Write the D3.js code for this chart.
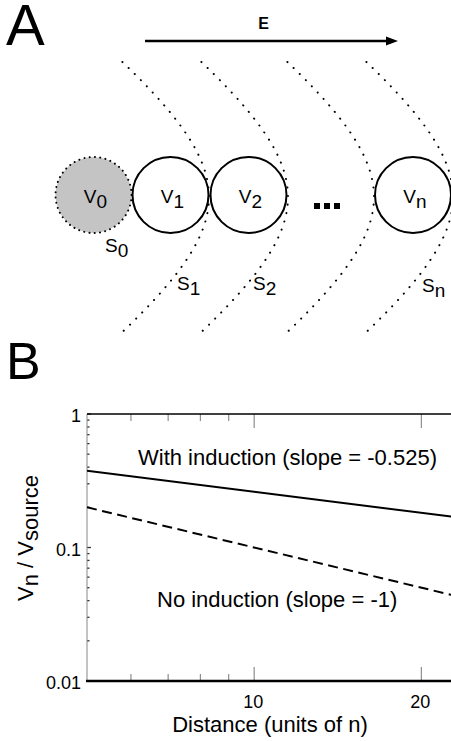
<!DOCTYPE html>
<html><head><meta charset="utf-8">
<script src="https://cdn.jsdelivr.net/npm/d3@7"></script>
<style>html,body{margin:0;padding:0;background:#fff;} svg{display:block;font-family:"Liberation Sans",Arial,Helvetica,sans-serif;}</style>
</head><body><svg id="c" width="451" height="741"></svg>
<script>
// ---------- data (panel B) ----------
const distance = [5, 23];
const withInduction = [0.376, 0.169];
const noInduction = [0.2, 0.0435];
const xMajorTicks = [10, 20];
const xMajorLabels = ["10", "20"];
const xMinorTicks = [6, 7, 8, 9];
const yMajorTicks = [1, 0.1, 0.01];
const yTickLabels = ["1", "0.1", "0.01"];
const yMinorTicks = [0.9, 0.8, 0.7, 0.6, 0.5, 0.4, 0.3, 0.2, 0.09, 0.08, 0.07, 0.06, 0.05, 0.04, 0.03, 0.02];
const annotations = ["With induction (slope = -0.525)", "No induction (slope = -1)"];
// ---------- schematic (panel A) ----------
const compartments = ["0", "1", "2", "n"];
const surfaces = ["0", "1", "2", "n"];

const svg = d3.select("#c");

// ===== Panel A =====
svg.append("text").attr("x", 6).attr("y", 45).attr("font-size", 58).text("A");

// field arrow
svg.append("line").attr("x1", 145).attr("y1", 41).attr("x2", 390).attr("y2", 41)
  .attr("stroke", "#000").attr("stroke-width", 2.6);
svg.append("path").attr("d", "M386,36.5 L398,41 L386,45.5 Z").attr("fill", "#000");
svg.append("text").attr("x", 263.5).attr("y", 29).attr("text-anchor", "middle")
  .attr("font-size", 16).attr("font-weight", "bold").text("E");

// dotted surfaces
const vertexX = [209, 288, 374, 453];
const arcLine = d3.line().curve(d3.curveBasis);
vertexX.forEach(xv => {
  const pts = d3.range(62, 333, 2).map(yy => {
    const dy = yy - 197;
    return [xv - 1.35 * (Math.sqrt(dy * dy + 110 * 110) - 110), yy];
  });
  svg.append("path").attr("d", arcLine(pts)).attr("fill", "none")
    .attr("stroke", "#000").attr("stroke-width", 2).attr("stroke-linecap", "round")
    .attr("stroke-dasharray", "0.1 8.5");
});

// compartments
const cxs = [93.5, 170.5, 248.5, 413];
const cyA = 195, rA = 38;
compartments.forEach((c, i) => {
  const circ = svg.append("circle").attr("cx", cxs[i]).attr("cy", cyA).attr("r", rA);
  if (i === 0) {
    circ.attr("fill", "#c4c4c4").attr("stroke", "#000").attr("stroke-width", 2)
      .attr("stroke-linecap", "round").attr("stroke-dasharray", "0.1 5.2");
  } else {
    circ.attr("fill", "#fff").attr("stroke", "#000").attr("stroke-width", 2);
  }
  const t = svg.append("text").attr("x", cxs[i] + 2).attr("y", 203)
    .attr("text-anchor", "middle").attr("font-size", 19);
  t.append("tspan").text("V");
  t.append("tspan").attr("dy", 5).text(c);
});

// ellipsis
[314, 324, 334].forEach(xx => {
  svg.append("rect").attr("x", xx).attr("y", 203).attr("width", 6).attr("height", 6).attr("fill", "#000");
});

// surface labels
const sPos = [[105, 252], [177, 290], [253, 290], [422, 292]];
surfaces.forEach((s, i) => {
  const t = svg.append("text").attr("x", sPos[i][0]).attr("y", sPos[i][1]).attr("font-size", 19);
  t.append("tspan").text("S");
  t.append("tspan").attr("dy", 5).text(s);
});

// ===== Panel B =====
svg.append("text").attr("x", 6).attr("y", 379).attr("font-size", 52).text("B");

const pLeft = 87, pTop = 414, pBottom = 681;
const x = d3.scaleLog().domain([5, 23]).range([pLeft, 455]);
const y = d3.scaleLog().domain([0.01, 1]).range([pBottom, pTop]);

svg.append("clipPath").attr("id", "plot").append("rect")
  .attr("x", pLeft).attr("y", pTop).attr("width", 460 - pLeft).attr("height", pBottom - pTop);

const g = svg.append("g");
xMinorTicks.concat(xMajorTicks).forEach(v => {
  const len = xMajorTicks.includes(v) ? 14 : 7;
  g.append("line").attr("x1", x(v)).attr("x2", x(v)).attr("y1", pBottom).attr("y2", pBottom - len)
    .attr("stroke", "#777").attr("stroke-width", 1);
  g.append("line").attr("x1", x(v)).attr("x2", x(v)).attr("y1", pTop).attr("y2", pTop + len)
    .attr("stroke", "#777").attr("stroke-width", 1);
});
xMajorTicks.forEach((v, i) => {
  g.append("text").attr("x", x(v) - 1).attr("y", 708).attr("text-anchor", "middle")
    .attr("font-size", 18).text(xMajorLabels[i]);
});

yMinorTicks.forEach(v => {
  g.append("line").attr("x1", pLeft).attr("x2", pLeft + 2.5).attr("y1", y(v)).attr("y2", y(v))
    .attr("stroke", "#333").attr("stroke-width", 1.3);
});
yMajorTicks.forEach((v, i) => {
  g.append("line").attr("x1", pLeft).attr("x2", pLeft + 4).attr("y1", y(v)).attr("y2", y(v))
    .attr("stroke", "#333").attr("stroke-width", 1.3);
  g.append("text").attr("x", 81).attr("y", y(v) + 8).attr("text-anchor", "end")
    .attr("font-size", 18).text(yTickLabels[i]);
});

// frame
svg.append("line").attr("x1", pLeft).attr("x2", pLeft).attr("y1", pTop).attr("y2", pBottom)
  .attr("stroke", "#888").attr("stroke-width", 1);
svg.append("line").attr("x1", pLeft).attr("x2", 451).attr("y1", pTop).attr("y2", pTop)
  .attr("stroke", "#000").attr("stroke-width", 1.5);
svg.append("line").attr("x1", pLeft - 1).attr("x2", 451).attr("y1", pBottom).attr("y2", pBottom)
  .attr("stroke", "#000").attr("stroke-width", 2.5);

// series
const line = d3.line().x(d => x(d[0])).y(d => y(d[1]));
svg.append("path").attr("clip-path", "url(#plot)")
  .attr("d", line(distance.map((d, i) => [d, withInduction[i]])))
  .attr("fill", "none").attr("stroke", "#000").attr("stroke-width", 2);
svg.append("path").attr("clip-path", "url(#plot)")
  .attr("d", line(distance.map((d, i) => [d, noInduction[i]])))
  .attr("fill", "none").attr("stroke", "#000").attr("stroke-width", 2)
  .attr("stroke-dasharray", "10 5.5");

// annotations
svg.append("text").attr("x", 138).attr("y", 465).attr("font-size", 22).text(annotations[0]);
svg.append("text").attr("x", 157).attr("y", 607).attr("font-size", 22).text(annotations[1]);

// axis titles
svg.append("text").attr("x", 270).attr("y", 732).attr("text-anchor", "middle")
  .attr("font-size", 22).text("Distance (units of n)");
const yl = svg.append("text").attr("transform", "translate(33,538) rotate(-90)")
  .attr("text-anchor", "middle").attr("font-size", 22);
yl.append("tspan").text("V");
yl.append("tspan").attr("dy", 5).text("n");
yl.append("tspan").attr("dy", -5).text(" / V");
yl.append("tspan").attr("dy", 5).text("source");
</script>
</body></html>
